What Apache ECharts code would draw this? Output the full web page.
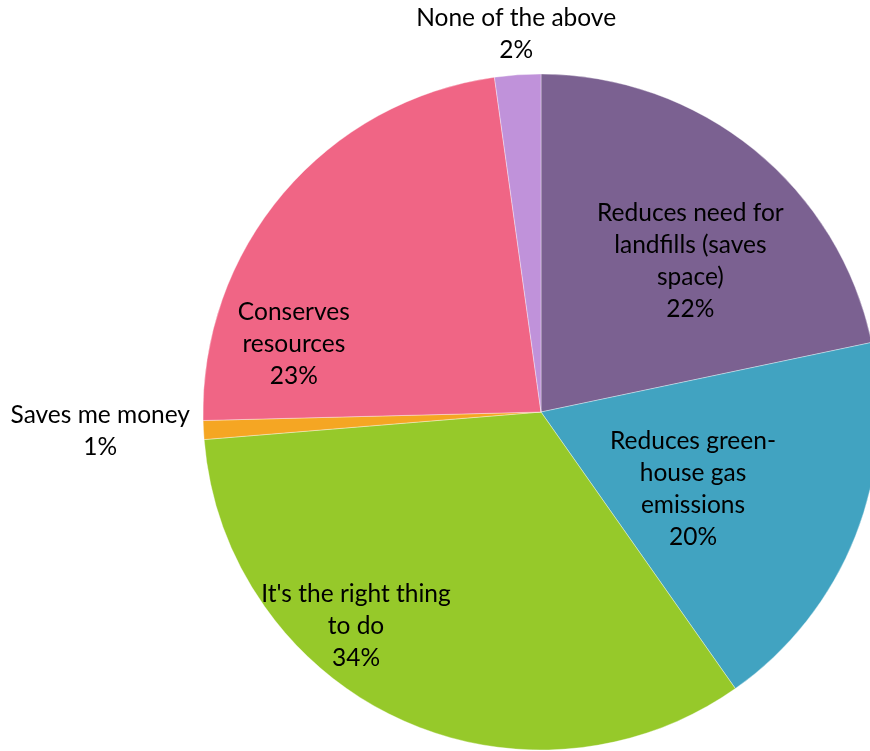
<!DOCTYPE html>
<html><head><meta charset="utf-8">
<script src="https://cdn.jsdelivr.net/npm/echarts@6/dist/echarts.min.js"></script>
<style>html,body{margin:0;padding:0;background:#fff}#c{width:870px;height:751px}</style>
</head><body><div id="c"></div>
<script>
var categories = ["Reduces need for\nlandfills (saves\nspace)", "Reduces green-\nhouse gas\nemissions", "It's the right thing\nto do", "Saves me money", "Conserves\nresources", "None of the above"];
var values = [21.7, 18.55, 33.45, 0.9, 23.2, 2.2];
var pctLabels = ["22%", "20%", "34%", "1%", "23%", "2%"];
var colors = ["#7B6191", "#41A3C1", "#96C92A", "#F5A623", "#F06585", "#C092DA"];
var labelOffsets = [[41, -17], [-8, 14], [-112, 58], [-269, 10], [-116, 43], [-13, -206]];

var data = categories.map(function (c, i) {
  return {
    name: c, value: values[i],
    itemStyle: { color: colors[i] },
    label: { offset: labelOffsets[i] }
  };
});
var chart = echarts.init(document.getElementById('c'), null, { renderer: 'canvas' });
chart.setOption({
  animation: false,
  series: [{
    type: 'pie',
    center: [541, 412],
    radius: 338,
    startAngle: 90,
    clockwise: true,
    data: data,
    itemStyle: { borderColor: 'rgba(255,255,255,0.6)', borderWidth: 0.6 },
    label: {
      show: true, position: 'inside',
      formatter: function (p) { return p.name + '\n' + pctLabels[p.dataIndex]; },
      fontFamily: 'Lato', fontSize: 24.5, lineHeight: 32, color: '#000', align: 'center'
    },
    labelLine: { show: false },
    emphasis: { disabled: true }
  }]
});
</script></body></html>
